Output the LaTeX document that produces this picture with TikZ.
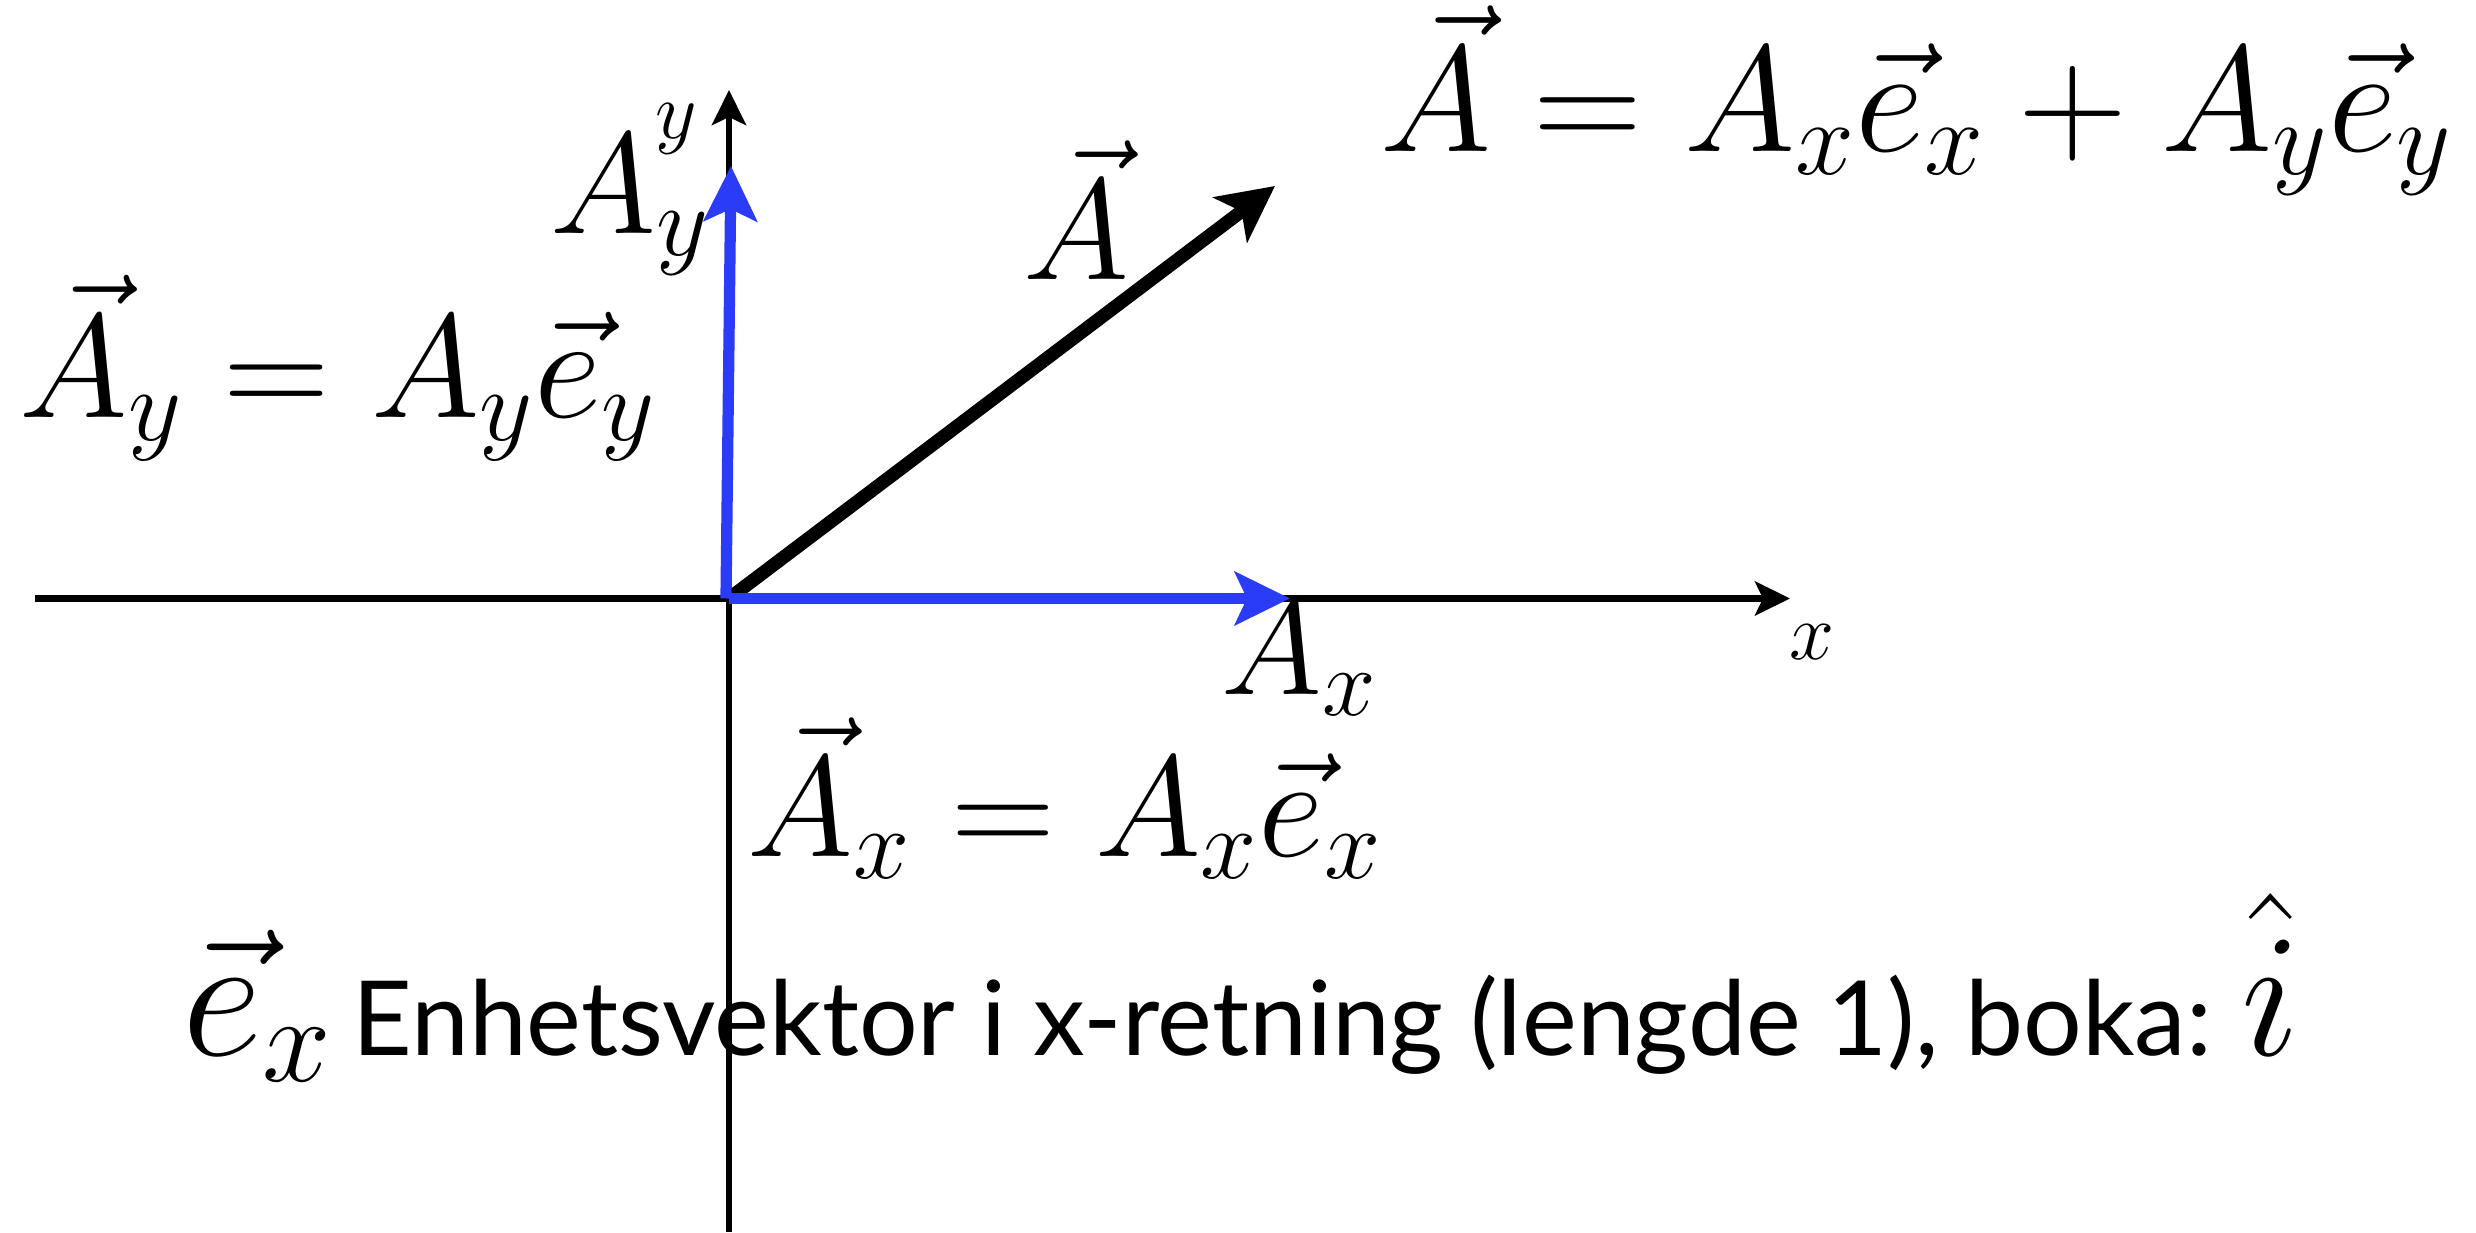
\RequirePackage{fix-cm}
\documentclass[tikz,border=0pt]{standalone}
\usepackage{amsmath}
\usepackage{fontspec}
\newfontfamily\notefont{Lato}
\usetikzlibrary{arrows.meta,positioning}
\definecolor{vecblue}{HTML}{2A3CF8}
\definecolor{vecink}{HTML}{000000}
\tikzset{
  axis/.style={draw=vecink, line width=1.8pt, -{Stealth[length=3.5mm, width=3.4mm, inset=0.8mm]}},
  comp/.style={draw=vecblue, line width=3.2pt, -{Stealth[length=5.5mm, width=5.3mm, inset=1.2mm]}},
  res/.style={draw=vecink, line width=3.8pt, -{Stealth[length=5.6mm, width=5.6mm, inset=1.4mm]}},
  bigmath/.style={font=\fontsize{41}{48}\selectfont, inner sep=0pt, anchor=base west},
  axlabel/.style={font=\fontsize{23}{28}\selectfont, inner sep=0pt, anchor=base west},
  note/.style={font=\fontsize{50}{60}\selectfont, inner sep=0pt, anchor=base west},
}

\begin{document}
\begin{tikzpicture}
\useasboundingbox (0,0) rectangle (24.76,12.32);

% ---- axes ------------------------------------------------------------
\coordinate (O) at (7.29,6.335);
\coordinate (xl) at (0.35,6.335);
\coordinate (xr) at (17.90,6.335);
\coordinate (yb) at (7.29,0);
\coordinate (yt) at (7.29,11.42);
\draw[axis] (xl) -- (xr);
\draw[axis] (yb) -- (yt);
\node[axlabel] (xlab) at (17.89,5.72) {$x$};
\node[axlabel] (ylab) at (6.55,10.93) {$y$};

% ---- vectors ---------------------------------------------------------
\coordinate (Atip) at (12.75,10.46);
\coordinate (Axtip) at (12.90,6.335);
\coordinate (Aytip) at (7.31,10.66);
\draw[res] (O) -- (Atip);
\draw[comp] (O) -- (Axtip);
\draw[comp] ([xshift=-0.03cm]O) -- (Aytip);

% ---- labels ----------------------------------------------------------
\node[bigmath] (Alab) at (10.23,9.52) {$\vec{A}$};
\node[bigmath] (Aylab) at (5.50,9.98) {$A_y$};
\node[bigmath, font=\fontsize{39}{46}\selectfont] (Axlab) at (12.21,5.37) {$A_x$};
\node[bigmath, font=\fontsize{43}{50}\selectfont] (sum) at (13.80,10.80)
  {$\vec{A} = A_x\vec{e}_x + A_y\vec{e}_y$};
\node[bigmath, font=\fontsize{42}{50}\selectfont] (Ayeq) at (0.19,8.14) {$\vec{A}_y = A_y\vec{e}_y$};
\node[bigmath] (Axeq) at (7.47,3.75) {$\vec{A}_x = A_x\vec{e}_x$};

\node[note] (unit) at (1.82,1.77)
  {$\vec{e}_x$\hspace{0.2cm}{\fontsize{29.5}{36}\selectfont\notefont
   Enhetsvektor i x-retning (lengde 1), boka:}\,$\hat{i}$};

\end{tikzpicture}
\end{document}
